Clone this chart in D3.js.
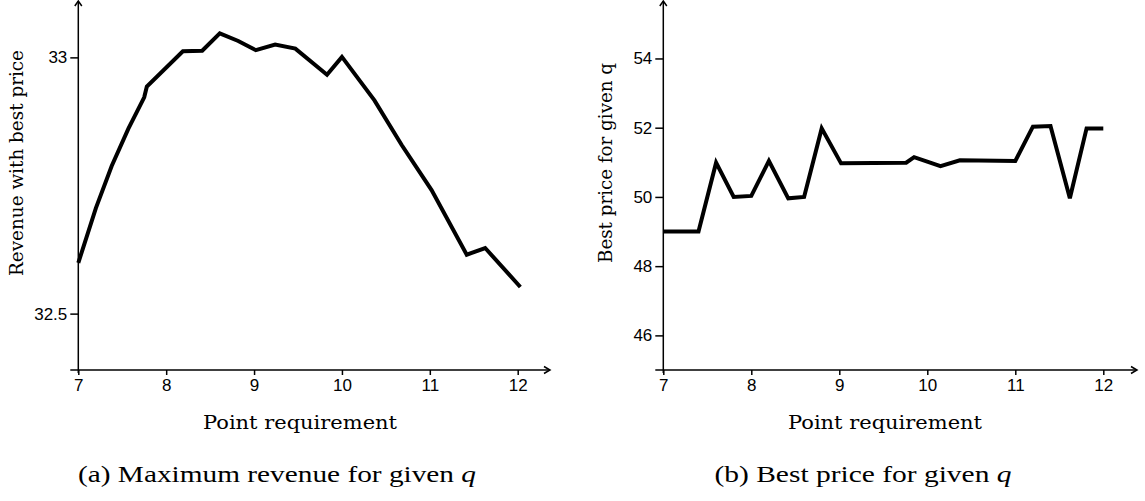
<!DOCTYPE html>
<html>
<head>
<meta charset="utf-8">
<script src="https://cdn.jsdelivr.net/npm/d3@7"></script>
<style>
  body { margin: 0; background: #fff; }
</style>
</head>
<body>
<div id="chart"></div>
<script>
// values
var x_ticks = [7, 8, 9, 10, 11, 12];

var revenue_q = [7.0, 7.2, 7.38, 7.57, 7.75, 7.78, 8.19, 8.41, 8.61, 8.82, 9.02, 9.24, 9.47, 9.83, 10.0, 10.37, 10.68, 11.02, 11.42, 11.63, 12.03];
var revenue_values = [32.599, 32.706, 32.788, 32.861, 32.922, 32.943, 33.012, 33.013, 33.047, 33.032, 33.014, 33.025, 33.017, 32.966, 33.001, 32.916, 32.829, 32.741, 32.615, 32.628, 32.552];
var revenue_ticks = [32.5, 33];

var price_q = [7.0, 7.4, 7.6, 7.8, 8.0, 8.2, 8.42, 8.6, 8.8, 9.02, 9.76, 9.85, 10.15, 10.37, 11.0, 11.2, 11.4, 11.62, 11.81, 12.0];
var price_values = [49.0, 49.0, 50.99, 50.0, 50.03, 51.04, 49.96, 50.0, 51.98, 50.97, 50.99, 51.15, 50.89, 51.06, 51.04, 52.03, 52.05, 49.96, 51.98, 51.98];
var price_ticks = [46, 48, 50, 52, 54];

const width = 1145;
const height = 501;
const axis_y = 370;

document.addEventListener('DOMContentLoaded', function () {
    var svg = d3.select("#chart").append("svg")
        .attr("width", width)
        .attr("height", height);

    drawPanel(svg, {
        q: revenue_q,
        values: revenue_values,
        yTicks: revenue_ticks,
        yDomain: [32.39, 33.11],
        xRange: [78.3, 517.7],
        xEnd: 550,
        yLabel: "Revenue with best price",
        yLabelX: 23,
        yLabelLen: 226,
        xLabelX: 300,
        caption: "(a) Maximum revenue for given ",
        captionX: 277,
        captionLen: 398
    });

    drawPanel(svg, {
        q: price_q,
        values: price_values,
        yTicks: price_ticks,
        yDomain: [45, 55.66],
        xRange: [663.3, 1103.3],
        xEnd: 1137,
        yLabel: "Best price for given q",
        yLabelX: 612,
        yLabelLen: 200,
        xLabelX: 885,
        caption: "(b) Best price for given ",
        captionX: 863,
        captionLen: 297
    });
});

function styleAxis(axis) {
    axis.select(".domain").remove();
    axis.selectAll("line").attr("stroke", "#000").attr("stroke-width", 1.5);
    axis.selectAll("text")
        .attr("font-family", "'Liberation Sans', Arial, sans-serif")
        .attr("font-size", "17px")
        .attr("fill", "#000");
}

function drawPanel(svg, p) {
    var xScale = d3.scaleLinear().domain([7, 12]).range(p.xRange);
    var yScale = d3.scaleLinear().domain(p.yDomain).range([axis_y, 1]);
    var x0 = p.xRange[0];

    var g = svg.append("g");

    // y axis
    var yAxis = g.append("g")
        .attr("transform", "translate(" + x0 + ",0)")
        .call(d3.axisLeft(yScale).tickValues(p.yTicks).tickFormat(d3.format("")).tickSize(8).tickPadding(3).tickSizeOuter(0));
    styleAxis(yAxis);

    // x axis
    var xAxis = g.append("g")
        .attr("transform", "translate(0," + axis_y + ")")
        .call(d3.axisBottom(xScale).tickValues(x_ticks).tickFormat(d3.format("")).tickSize(5).tickPadding(4).tickSizeOuter(0));
    styleAxis(xAxis);

    // axis lines with open arrow heads
    g.append("line")
        .attr("x1", x0).attr("x2", x0)
        .attr("y1", axis_y + 3).attr("y2", 1)
        .attr("stroke", "#000").attr("stroke-width", 1.5);
    g.append("path")
        .attr("d", "M" + (x0 - 3.5) + ",6 L" + x0 + ",1 L" + (x0 + 3.5) + ",6")
        .attr("fill", "none").attr("stroke", "#000").attr("stroke-width", 1.5);

    g.append("line")
        .attr("x1", x0 - 8).attr("x2", p.xEnd)
        .attr("y1", axis_y).attr("y2", axis_y)
        .attr("stroke", "#000").attr("stroke-width", 1.5);
    g.append("path")
        .attr("d", "M" + (p.xEnd - 6) + "," + (axis_y - 3.5) + " L" + p.xEnd + "," + axis_y + " L" + (p.xEnd - 6) + "," + (axis_y + 3.5))
        .attr("fill", "none").attr("stroke", "#000").attr("stroke-width", 1.5);

    // the data line
    var line = d3.line()
        .x(function(d, i){ return xScale(p.q[i]); })
        .y(function(d){ return yScale(d); });

    g.append("path")
        .datum(p.values)
        .attr("d", line)
        .attr("fill", "none")
        .attr("stroke", "#000")
        .attr("stroke-width", 4);

    // axis titles
    g.append("text")
        .attr("transform", "translate(" + p.yLabelX + ",163) rotate(-90)")
        .attr("text-anchor", "middle")
        .attr("font-family", "'DejaVu Serif', serif")
        .attr("font-size", "18.5px")
        .attr("textLength", p.yLabelLen)
        .attr("lengthAdjust", "spacingAndGlyphs")
        .text(p.yLabel);

    g.append("text")
        .attr("x", p.xLabelX)
        .attr("y", 429)
        .attr("text-anchor", "middle")
        .attr("font-family", "'DejaVu Serif', serif")
        .attr("font-size", "18.5px")
        .attr("textLength", 194)
        .attr("lengthAdjust", "spacingAndGlyphs")
        .text("Point requirement");

    // caption under the panel
    var cap = g.append("text")
        .attr("x", p.captionX)
        .attr("y", 482)
        .attr("text-anchor", "middle")
        .attr("font-family", "'Liberation Serif', 'Times New Roman', serif")
        .attr("font-size", "23px")
        .attr("textLength", p.captionLen)
        .attr("lengthAdjust", "spacingAndGlyphs");
    cap.append("tspan").text(p.caption);
    cap.append("tspan").attr("font-style", "italic").text("q");
}
</script>
</body>
</html>
